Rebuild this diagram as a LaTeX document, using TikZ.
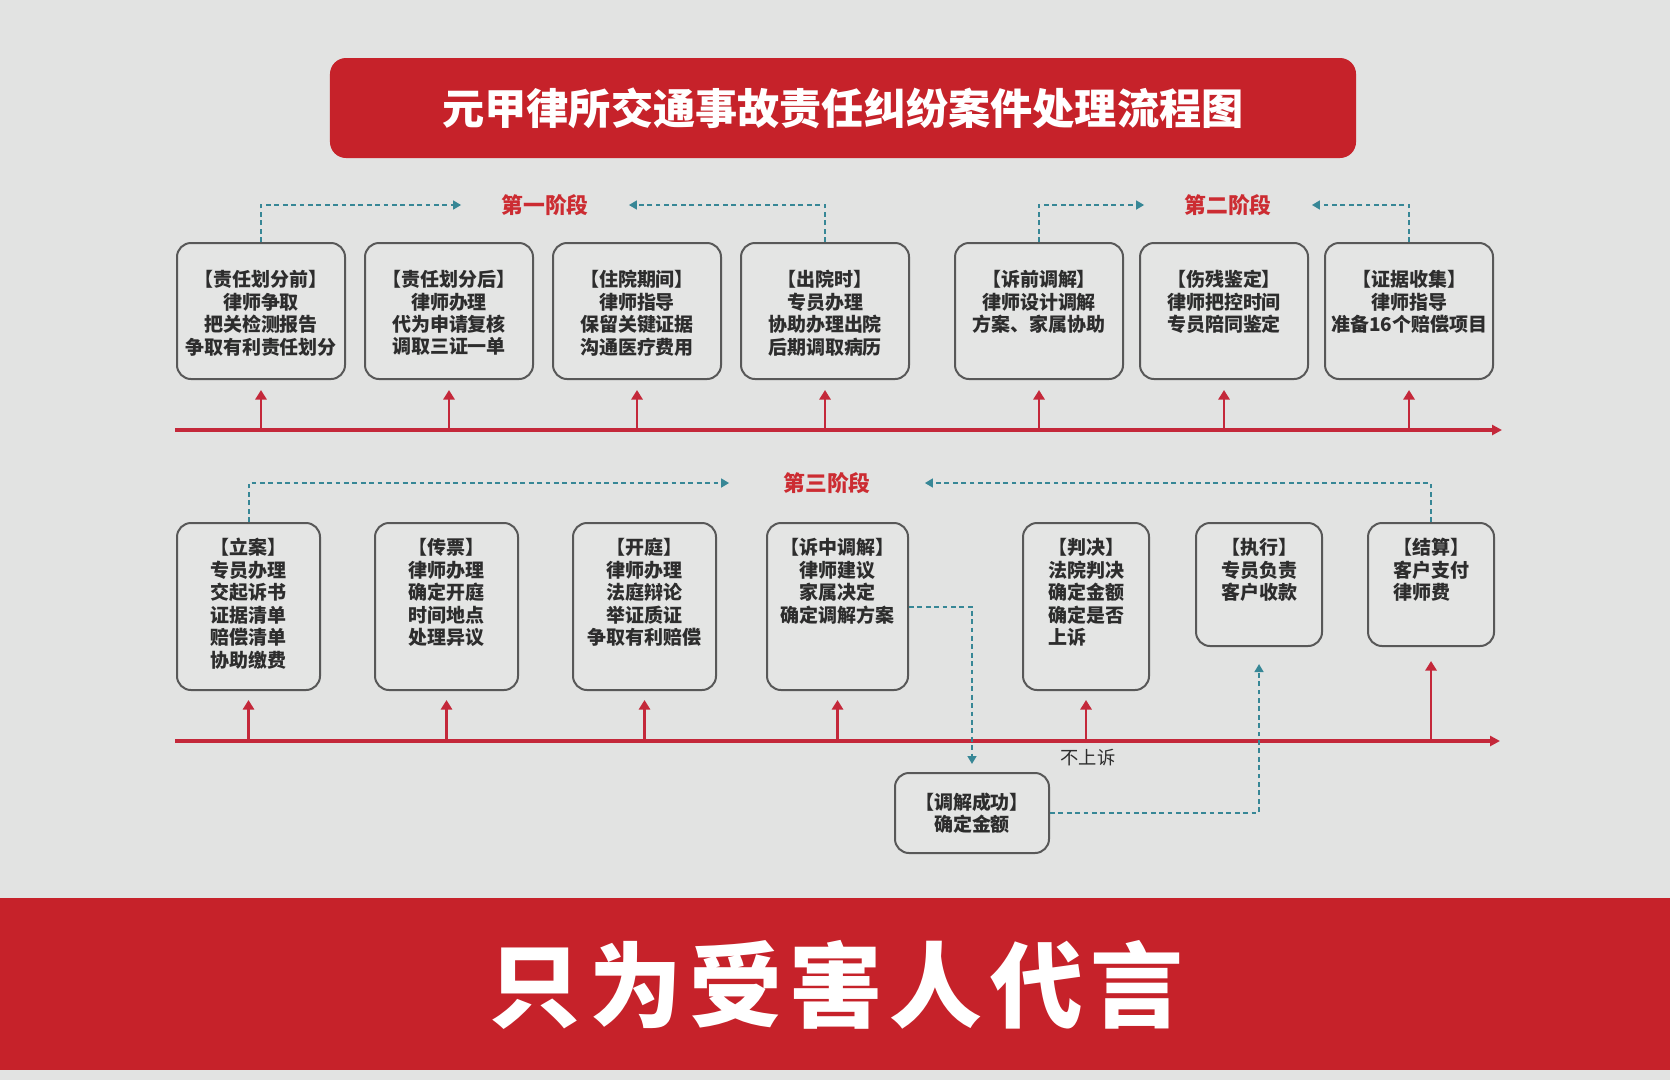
\documentclass[tikz,border=0pt]{standalone}
\usepackage{fontspec}
\setmainfont{Noto Sans CJK SC}
\usetikzlibrary{arrows.meta, positioning}
\definecolor{boardgray}{RGB}{226,227,226}
\definecolor{boxfill}{RGB}{228,229,228}
\definecolor{framegray}{RGB}{88,88,88}
\definecolor{notegray}{RGB}{45,45,45}
\definecolor{bannerred}{RGB}{198,34,42}
\definecolor{axisred}{RGB}{196,40,58}
\definecolor{phasered}{RGB}{204,44,50}
\definecolor{flowteal}{RGB}{55,135,150}
\tikzset{
  stage/.style={draw=framegray, line width=0.5mm, rounded corners=3.5mm, fill=boxfill, minimum width=42mm, minimum height=34mm, inner sep=0pt},
  lowbox/.style={minimum width=35.75mm, minimum height=41.75mm},
  shortbox/.style={minimum width=31.5mm, minimum height=30.75mm},
  note/.style={anchor=north, align=center, inner sep=0pt, text=notegray, font=\fontsize{13.5}{16}\selectfont\bfseries},
  upnote/.style={note, yshift=-7mm},
  lownote/.style={note, yshift=-4mm},
  phase/.style={text=phasered, font=\fontsize{15.5}{18}\selectfont\bfseries, inner sep=0pt},
  timeline/.style={draw=axisred, line width=1mm, -{Triangle[length=2.5mm, width=2.5mm]}},
  rise/.style={draw=axisred, line width=0.7mm, -{Triangle[length=2.4mm, width=2.8mm]}},
  flow/.style={draw=flowteal, line width=0.5mm, dash pattern=on 1.2mm off 0.9mm, -{Triangle[length=2mm, width=2.2mm]}}
}
\begin{document}
\begin{tikzpicture}[x=0.25mm, y=-0.25mm]
\fill[boardgray] (0,0) rectangle (1670,1080);
\useasboundingbox (0,0) rectangle (1670,1080);

% banner and slogan
\node[fill=bannerred, rounded corners=4mm, minimum width=256.5mm, minimum height=25mm, text=white, font=\fontsize{30}{32}\selectfont\bfseries] (title) at (843,108) {元甲律所交通事故责任纠纷案件处理流程图};
\fill[bannerred] (0,898) rectangle (1670,1070);
\node[text=white, font=\fontsize{66}{70}\selectfont\bfseries\addfontfeature{LetterSpace=8}] (slogan) at (836,985) {只为受害人代言};

% first row of stages
\node[stage, anchor=north west, label={[upnote]north:{【责任划分前】\\律师争取\\把关检测报告\\争取有利责任划分}}] (a1) at (176,242) {};
\node[stage, right=4.5mm of a1, label={[upnote]north:{【责任划分后】\\律师办理\\代为申请复核\\调取三证一单}}] (a2) {};
\node[stage, right=4.5mm of a2, label={[upnote]north:{【住院期间】\\律师指导\\保留关键证据\\沟通医疗费用}}] (a3) {};
\node[stage, right=4.5mm of a3, label={[upnote]north:{【出院时】\\专员办理\\协助办理出院\\后期调取病历}}] (a4) {};
\node[stage, right=11mm of a4, label={[upnote]north:{【诉前调解】\\律师设计调解\\方案、家属协助}}] (a5) {};
\node[stage, right=3.75mm of a5, label={[upnote]north:{【伤残鉴定】\\律师把控时间\\专员陪同鉴定}}] (a6) {};
\node[stage, right=3.75mm of a6, label={[upnote]north:{【证据收集】\\律师指导\\准备16个赔偿项目}}] (a7) {};

% second row of stages
\node[stage, lowbox, anchor=north west, label={[lownote]north:{【立案】\\专员办理\\交起诉书\\证据清单\\赔偿清单\\协助缴费}}] (b1) at (176,522) {};
\node[stage, lowbox, right=13.25mm of b1, label={[lownote]north:{【传票】\\律师办理\\确定开庭\\时间地点\\处理异议}}] (b2) {};
\node[stage, lowbox, right=13.25mm of b2, label={[lownote]north:{【开庭】\\律师办理\\法庭辩论\\举证质证\\争取有利赔偿}}] (b3) {};
\node[stage, lowbox, minimum width=35.25mm, right=12.25mm of b3, label={[lownote]north:{【诉中调解】\\律师建议\\家属决定\\确定调解方案}}] (b4) {};
\node[stage, lowbox, minimum width=31.5mm, right=28.25mm of b4, label={[lownote]north:{【判决】\\法院判决\\确定金额\\确定是否\\\makebox[4em][l]{上诉}}}] (b5) {};
\node[stage, shortbox, right=11.25mm of b5.north east, anchor=north west, label={[lownote]north:{【执行】\\专员负责\\客户收款}}] (b6) {};
\node[stage, shortbox, right=11mm of b6.north east, anchor=north west, label={[lownote]north:{【结算】\\客户支付\\\makebox[4em][l]{律师费}}}] (b7) {};
\node[stage, minimum width=38.5mm, minimum height=20mm, align=center, text=notegray, font=\fontsize{13.5}{16}\selectfont\bfseries] (settle) at (972,813) {【调解成功】\\确定金额};

% phase labels
\node[phase] (p1) at (545,205) {第一阶段};
\node[phase] (p2) at (1228,205) {第二阶段};
\node[phase] (p3) at (827,483) {第三阶段};
\node[text=notegray, font=\fontsize{13}{15}\selectfont, inner sep=0pt] (noappeal) at (1088,758) {不上诉};

% time lines
\coordinate (l1s) at (175,430);
\coordinate (l1e) at (1502,430);
\coordinate (l2s) at (175,741);
\coordinate (l2e) at (1500,741);
\draw[timeline] (l1s) -- (l1e);
\draw[timeline] (l2s) -- (l2e);

% arrows up to the stages
\foreach \s in {a1,a2,a3,a4,a5,a6,a7}
  \draw[rise] (\s.south |- l1s) -- ([yshift=-2.5mm]\s.south);
\foreach \s in {b1,b2,b3,b4,b5}
  \draw[rise] (\s.south |- l2s) -- ([yshift=-2.25mm]\s.south);
\draw[rise] (b7.south |- l2s) -- ([yshift=-3.5mm]b7.south);

% phase brackets
\draw[flow] (a1.north) |- ([xshift=-10mm]p1.west);
\draw[flow] (a4.north) |- ([xshift=10mm]p1.east);
\draw[flow] (a5.north) |- ([xshift=-10mm]p2.west);
\draw[flow] (a7.north) |- ([xshift=10mm]p2.east);
\draw[flow] (b1.north) |- ([xshift=-13.5mm]p3.west);
\draw[flow] (b7.north) |- ([xshift=13.5mm]p3.east);

% mediation path
\draw[flow] (b4.east) -| ([yshift=2mm]settle.north);
\draw[flow] (settle.east) -| ([yshift=-4.25mm]b6.south);

\end{tikzpicture}
\end{document}
